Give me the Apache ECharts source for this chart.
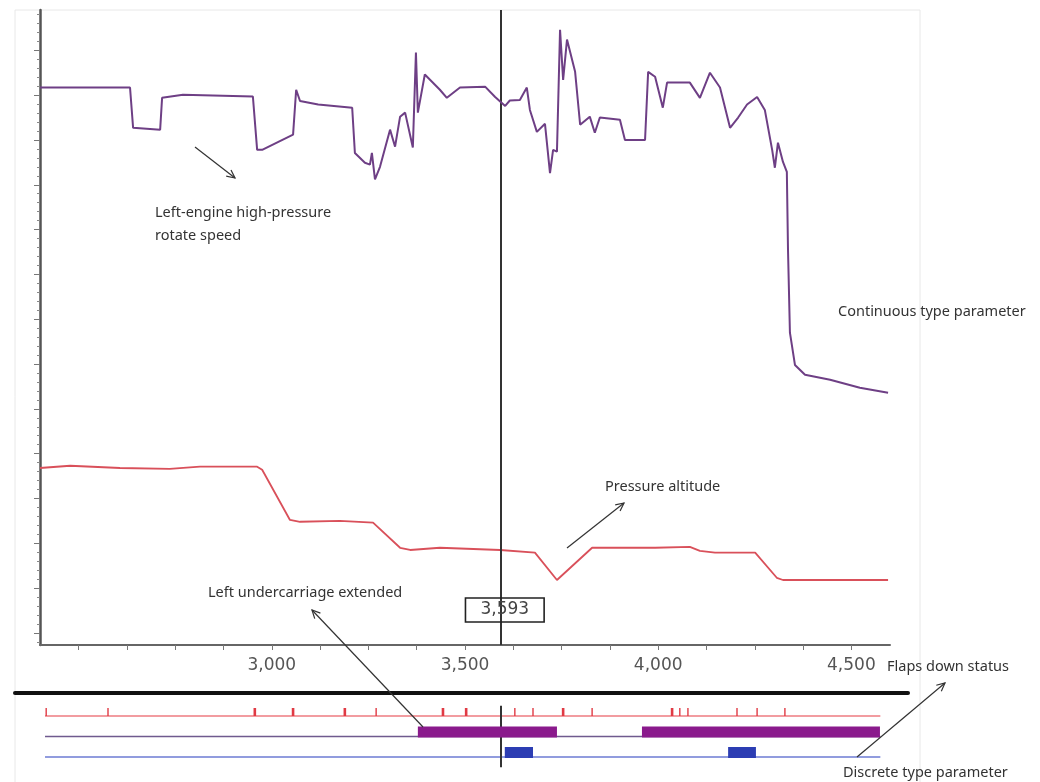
<!DOCTYPE html>
<html><head><meta charset="utf-8">
<script src="https://cdn.jsdelivr.net/npm/echarts@6/dist/echarts.min.js"></script>
<style>html,body{margin:0;padding:0;background:#fff}#c{width:1040px;height:782px}</style>
</head><body><div id="c"></div>
<script>
// ---- axis ranges & ticks ----
const X_MIN = 2400, X_MAX = 4600;
const Y_MIN = 7.3, Y_MAX = 149;
const xTickValues = [2500,2625,2750,2875,3000,3125,3250,3375,3500,3625,3750,3875,4000,4125,4250,4375,4500];
const xLabelValues = [3000,3500,4000,4500];
const yMajorTicks = [10,20,30,40,50,60,70,80,90,100,110,120,130,140];
const yMinorTicks = [8,12,14,16,18,22,24,26,28,32,34,36,38,42,44,46,48,52,54,56,58,62,64,66,68,72,74,76,78,82,84,86,88,92,94,96,98,102,104,106,108,112,114,116,118,122,124,126,128,132,134,136,138,142,144,146,148];

// ---- continuous parameters [time, value] ----
const rotateSpeed = [[2400,131.7],[2633,131.7],[2641,122.7],[2711,122.3],[2716,129.4],[2770,130.1],[2951,129.7],[2962,117.8],[2975,117.8],[3055,121.2],[3063,131.2],[3073,128.7],[3120,127.9],[3208,127.2],[3215,117.1],[3241,114.9],[3254,114.5],[3259,117.1],[3267,111.2],[3280,114.0],[3306,122.3],[3319,118.5],[3332,125.2],[3345,126.1],[3365,118.3],[3373,139.5],[3378,126.1],[3396,134.6],[3435,131.2],[3453,129.4],[3487,131.7],[3552,131.9],[3578,129.6],[3604,127.6],[3616,128.8],[3642,128.9],[3660,131.7],[3668,126.7],[3686,121.8],[3707,123.6],[3720,112.6],[3728,117.8],[3738,117.4],[3746,144.6],[3754,133.4],[3764,142.4],[3785,135.2],[3798,123.4],[3823,125.2],[3836,121.6],[3849,125.0],[3901,124.5],[3914,120.0],[3966,120.0],[3974,135.2],[3992,134.1],[4012,127.2],[4023,132.8],[4082,132.8],[4108,129.4],[4134,135.0],[4160,131.7],[4186,122.7],[4207,125.0],[4230,127.9],[4256,129.6],[4276,126.7],[4295,117.8],[4302,113.8],[4310,119.4],[4323,115.1],[4333,112.9],[4336,95.5],[4341,77.0],[4354,69.8],[4380,67.6],[4445,66.5],[4522,64.7],[4595,63.6]];
const pressureAltitude = [[2400,46.8],[2478,47.3],[2607,46.8],[2736,46.6],[2814,47.1],[2962,47.1],[2975,46.4],[3047,35.2],[3073,34.8],[3176,35.0],[3262,34.6],[3332,29.0],[3358,28.5],[3435,29.0],[3591,28.5],[3681,27.9],[3738,21.8],[3829,29.0],[3992,29.0],[4082,29.2],[4108,28.3],[4147,27.9],[4251,27.9],[4307,22.3],[4323,21.8],[4595,21.8]];

// ---- discrete parameters ----
const tracks = ['discrete', 'undercarriage', 'flaps'];   // bottom -> top
const trackStart = 2413, trackEnd = 4575;
const flapTicksBold = [2956,3055,3189,3443,3503,3754,4036];
const flapTicksThin = [2416,2576,3270,3629,3676,3829,4056,4077,4204,4256,4328];
const undercarriageOn = [[3378,3738],[3958,4574]];
const discreteOn = [[3603,3676],[4181,4253]];
const cursorT = 3593;

const trackColors = { flaps: '#e03a44', undercarriage: '#8a1a8c', discrete: '#2c3db3' };
const baseColors = { flaps: '#ee7b80', undercarriage: '#6f5a8e', discrete: '#6d7bd3' };

function arrow(x1, y1, x2, y2) {
  const a = Math.atan2(y2 - y1, x2 - x1), L = 9, w = 0.45;
  const p1 = [x2 - L * Math.cos(a - w), y2 - L * Math.sin(a - w)];
  const p2 = [x2 - L * Math.cos(a + w), y2 - L * Math.sin(a + w)];
  return [
    { type: 'line', z: 50, shape: { x1, y1, x2, y2 }, style: { stroke: '#333', lineWidth: 1.2 } },
    { type: 'polyline', z: 50, shape: { points: [p1, [x2, y2], p2] }, style: { stroke: '#333', lineWidth: 1.2, fill: null } }
  ];
}
function label(x, y, text) {
  return { type: 'text', z: 50, x, y, style: { text, fill: '#333', font: '14.5px "Noto Sans"', verticalAlign: 'middle', lineHeight: 23 } };
}

const chart = echarts.init(document.getElementById('c'), null, { renderer: 'canvas' });

const barData = [];
undercarriageOn.forEach(d => barData.push([1, d[0], d[1], 'undercarriage']));
discreteOn.forEach(d => barData.push([0, d[0], d[1], 'discrete']));
const tickData = [];
flapTicksBold.forEach(t => tickData.push([2, t, 2.6]));
flapTicksThin.forEach(t => tickData.push([2, t, 1.4]));

const option = {
  animation: false,
  backgroundColor: '#fff',
  grid: [
    { left: 40, right: 150, top: 10, bottom: 137 },
    { left: 40, right: 150, top: 705.75, height: 61.5 }
  ],
  xAxis: [
    { gridIndex: 0, type: 'value', min: X_MIN, max: X_MAX,
      axisLine: { show: true, lineStyle: { color: '#666', width: 2 } },
      axisTick: { show: true, customValues: xTickValues, length: 5, lineStyle: { color: '#777' } },
      axisLabel: { customValues: xLabelValues, formatter: v => v.toLocaleString('en-US'),
        fontSize: 17, color: '#555', margin: 12, fontFamily: 'DejaVu Sans' },
      splitLine: { show: false } },
    { gridIndex: 1, type: 'value', min: X_MIN, max: X_MAX, show: false }
  ],
  yAxis: [
    { gridIndex: 0, type: 'value', min: Y_MIN, max: Y_MAX, position: 'left',
      axisLine: { show: true, lineStyle: { color: '#555', width: 2.5 } },
      axisTick: { show: true, customValues: yMajorTicks, length: 6, lineStyle: { color: '#777' } },
      axisLabel: { show: false }, splitLine: { show: false } },
    { gridIndex: 0, type: 'value', min: Y_MIN, max: Y_MAX, position: 'left', offset: 0,
      axisLine: { show: false },
      axisTick: { show: true, customValues: yMinorTicks, length: 3, lineStyle: { color: '#888' } },
      axisLabel: { show: false }, splitLine: { show: false } },
    { gridIndex: 1, type: 'category', data: tracks, show: false }
  ],
  series: [
    { name: 'Left-engine high-pressure rotate speed', type: 'line', xAxisIndex: 0, yAxisIndex: 0,
      data: rotateSpeed, symbol: 'none', z: 5,
      lineStyle: { color: '#6e3f85', width: 2 },
      markPoint: { silent: true, symbol: 'rect', symbolSize: [1, 1],
        itemStyle: { color: 'rgba(0,0,0,0)' },
        label: { show: true, position: 'inside', formatter: cursorT.toLocaleString('en-US'), color: '#444',
          fontSize: 17, fontFamily: 'DejaVu Sans', borderColor: '#222', borderWidth: 1.6, padding: [4, 15, 3, 15] },
        data: [{ coord: [cursorT + 10, 15.1] }] },
      markLine: { silent: true, symbol: 'none', label: { show: false },
        lineStyle: { color: '#333', width: 2, type: 'solid' }, data: [{ xAxis: cursorT }] } },
    { name: 'Pressure altitude', type: 'line', xAxisIndex: 0, yAxisIndex: 0,
      data: pressureAltitude, symbol: 'none', z: 4,
      lineStyle: { color: '#d9505a', width: 1.8 } },
    ...tracks.map(tr => ({
      type: 'line', xAxisIndex: 1, yAxisIndex: 2, symbol: 'none', silent: true,
      data: [[trackStart, tr], [trackEnd, tr]],
      lineStyle: { color: baseColors[tr], width: 1.3 },
      markLine: tr === 'flaps' ? { silent: true, symbol: 'none', label: { show: false },
        lineStyle: { color: '#333', width: 2, type: 'solid' }, data: [{ xAxis: cursorT }] } : undefined
    })),
    { type: 'custom', xAxisIndex: 1, yAxisIndex: 2, silent: true, z: 6,
      data: barData, encode: { x: [1, 2], y: 0 },
      renderItem: (params, api) => {
        const p0 = api.coord([api.value(1), api.value(0)]);
        const p1 = api.coord([api.value(2), api.value(0)]);
        const tr = tracks[api.value(0)];
        return { type: 'rect', shape: { x: p0[0], y: p0[1] - 10, width: p1[0] - p0[0], height: 11 },
          style: { fill: trackColors[tr] } };
      } },
    { type: 'custom', xAxisIndex: 1, yAxisIndex: 2, silent: true, z: 6,
      data: tickData, encode: { x: 1, y: 0 },
      renderItem: (params, api) => {
        const p = api.coord([api.value(1), api.value(0)]);
        return { type: 'line', shape: { x1: p[0], y1: p[1] - 8, x2: p[0], y2: p[1] },
          style: { stroke: trackColors.flaps, lineWidth: api.value(2) } };
      } }
  ],
  graphic: [
    { type: 'rect', z: -1, shape: { x: 15, y: 10, width: 905, height: 780 }, style: { stroke: '#e8e8e8', fill: null, lineWidth: 1 } },
    { type: 'line', z: 40, shape: { x1: 15, y1: 693, x2: 908, y2: 693 }, style: { stroke: '#111', lineWidth: 4, lineCap: 'round' } },
    label(155, 224, 'Left-engine high-pressure\nrotate speed'),
    label(838, 312, 'Continuous type parameter'),
    label(605, 487, 'Pressure altitude'),
    label(208, 593, 'Left undercarriage extended'),
    label(887, 667, 'Flaps down status'),
    label(843, 773, 'Discrete type parameter'),
    ...arrow(195, 147, 235, 178),
    ...arrow(567, 548, 624, 503),
    ...arrow(423, 727, 312, 610),
    ...arrow(857, 757, 945, 683)
  ]
};
chart.setOption(option);
</script>
</body></html>
